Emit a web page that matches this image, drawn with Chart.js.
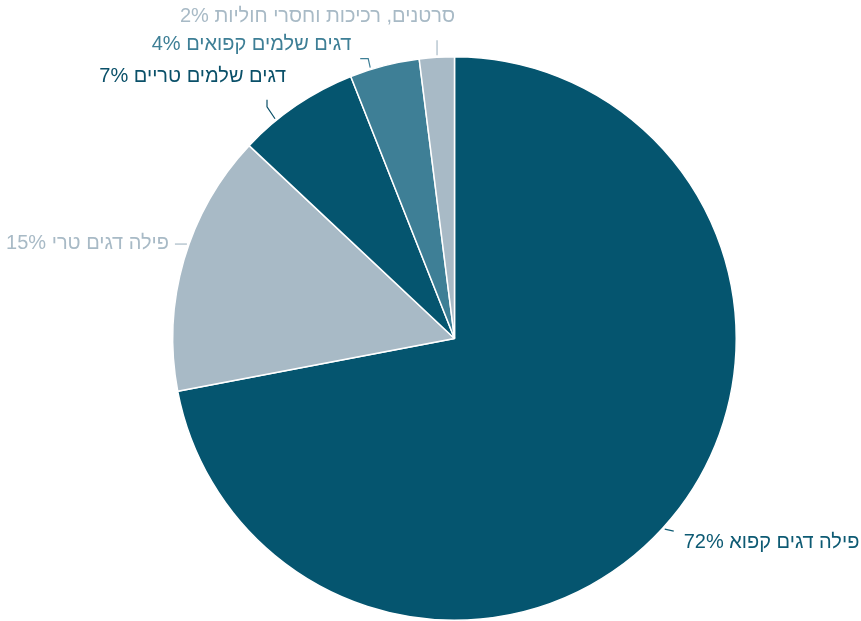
<!DOCTYPE html>
<html>
<head>
<meta charset="utf-8">
<script src="https://cdn.jsdelivr.net/npm/chart.js@4/dist/chart.umd.min.js"></script>
<style>
    html, body { margin: 0; padding: 0; background: #fff; }
    canvas { display: block; }
</style>
</head>
<body>
<canvas id="pie" width="861" height="621"></canvas>
<script>
    'use strict';

    // data
    var categories = [
        'פילה דגים קפוא',
        'פילה דגים טרי',
        'דגים שלמים טריים',
        'דגים שלמים קפואים',
        'סרטנים, רכיכות וחסרי חוליות'
    ];
    var shares = [72, 15, 7, 4, 2];
    var sliceColors = ['#05556f', '#a8bac6', '#05556f', '#3e7f96', '#a8bac6'];
    var labelColors = ['#0d5a73', '#a8bac6', '#0a5069', '#3e7f96', '#a8bac6'];

    // where each leader leaves its slice (fraction of the slice) and how the label sits
    var labelLayout = [
        { t: 0.51, leader: [[9, 2]], text: [19, 13], align: 'left' },
        { t: 0.56, leader: [[-12, 0]], text: [-18, -1], align: 'right' },
        { t: 0.30, leader: [[-8, -12], [-8, -19]], text: [11, -42], align: 'right' },
        { t: 0.30, leader: [[-2, -9], [-10, -9]], text: [-19, -23], align: 'right' },
        { t: 0.51, leader: [[0, -15]], text: [18, -39], align: 'right' }
    ];

    var outsideLabels = {
        id: 'outsideLabels',
        afterDraw: function (chart) {
            var ctx = chart.ctx;
            var meta = chart.getDatasetMeta(0);
            ctx.save();
            ctx.font = '20px "Liberation Sans", Arial, sans-serif';
            ctx.textBaseline = 'middle';
            ctx.lineWidth = 1.2;
            for (var i = 0; i < meta.data.length; i++) {
                var arc = meta.data[i];
                var lay = labelLayout[i];
                var a = arc.startAngle + (arc.endAngle - arc.startAngle) * lay.t;
                var r = arc.outerRadius + 2;
                var px = arc.x + Math.cos(a) * r;
                var py = arc.y + Math.sin(a) * r;
                var col = labelColors[i];

                ctx.strokeStyle = col;
                ctx.beginPath();
                ctx.moveTo(px, py);
                for (var k = 0; k < lay.leader.length; k++) {
                    ctx.lineTo(px + lay.leader[k][0], py + lay.leader[k][1]);
                }
                ctx.stroke();

                ctx.fillStyle = col;
                ctx.textAlign = lay.align;
                ctx.direction = 'rtl';
                ctx.fillText(categories[i] + ' ' + shares[i] + '%', px + lay.text[0], py + lay.text[1]);
            }
            ctx.restore();
        }
    };

    new Chart(document.getElementById('pie').getContext('2d'), {
        type: 'pie',
        data: {
            labels: categories,
            datasets: [{
                data: shares,
                backgroundColor: sliceColors,
                borderColor: '#ffffff',
                borderWidth: 1.5
            }]
        },
        options: {
            responsive: false,
            animation: false,
            layout: { padding: { top: 56, bottom: -2, left: 171, right: 123 } },
            plugins: {
                legend: { display: false },
                tooltip: { enabled: false }
            }
        },
        plugins: [outsideLabels]
    });
</script>
</body>
</html>
